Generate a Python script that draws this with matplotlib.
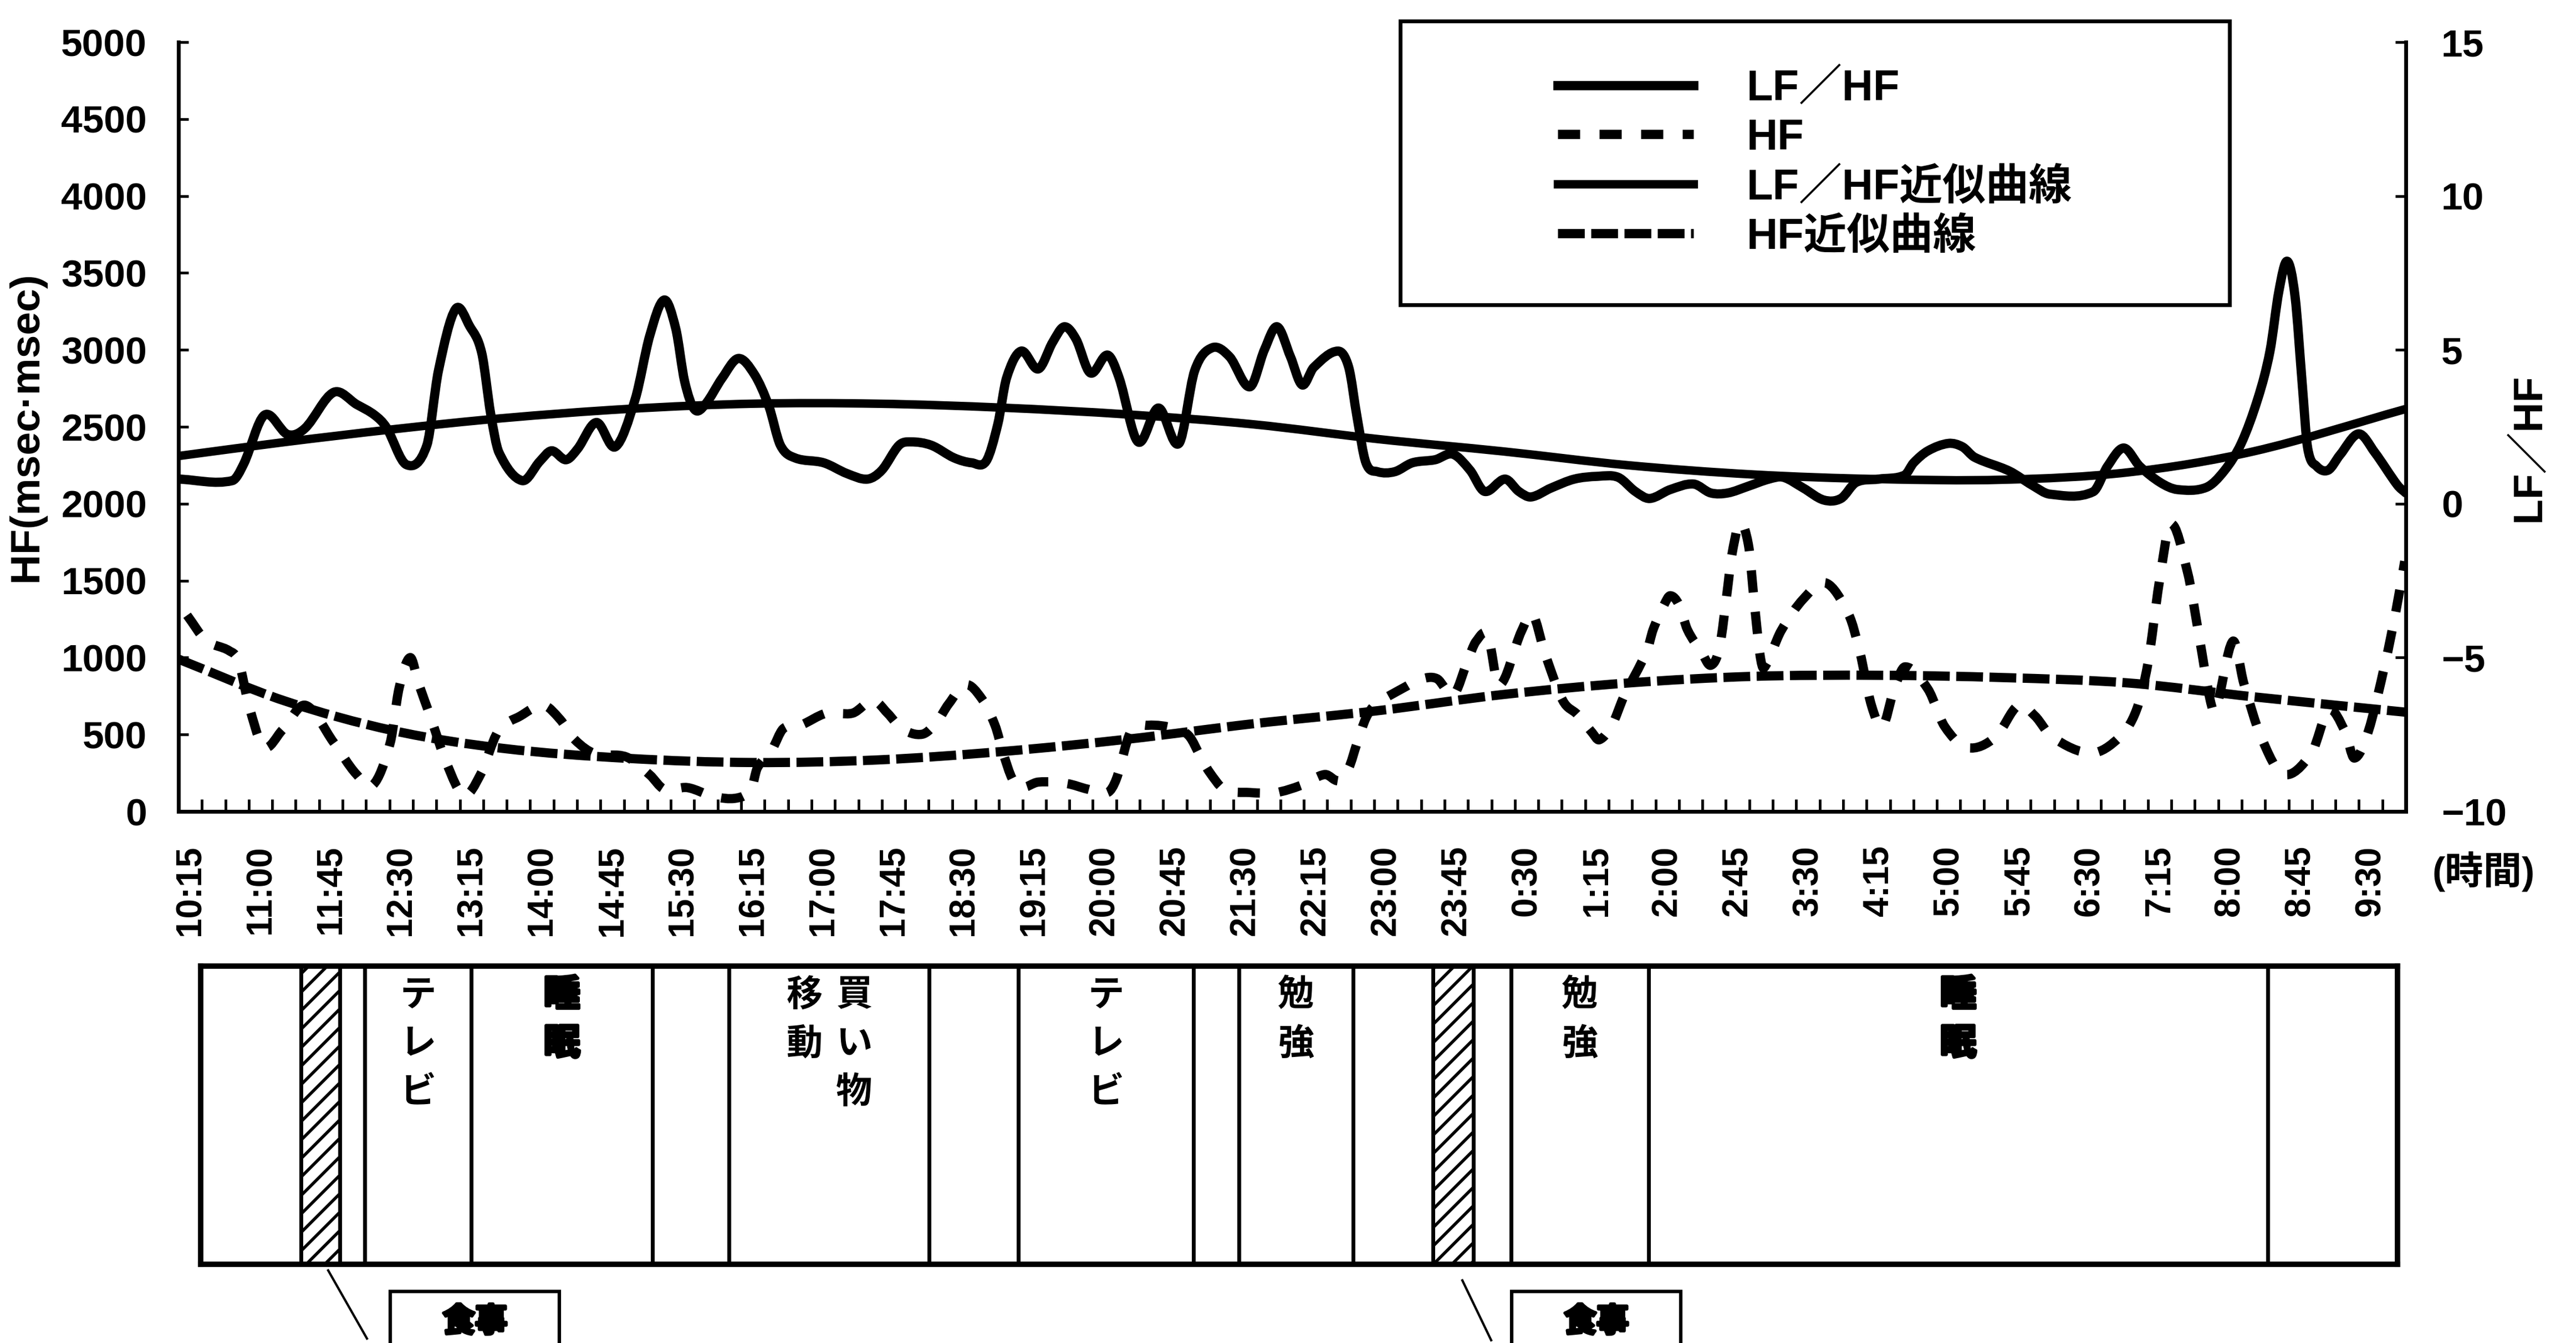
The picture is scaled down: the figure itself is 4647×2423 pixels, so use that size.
import numpy as np
import matplotlib
matplotlib.use("Agg")
import matplotlib.pyplot as plt
import matplotlib.patheffects as pe
from matplotlib.path import Path
from matplotlib.patches import PathPatch, Rectangle
from matplotlib.lines import Line2D

# ---------------- data (minutes after 10:15) ----------------
time_labels = ['10:15', '11:00', '11:45', '12:30', '13:15', '14:00', '14:45', '15:30',
               '16:15', '17:00', '17:45', '18:30', '19:15', '20:00', '20:45', '21:30',
               '22:15', '23:00', '23:45', '0:30', '1:15', '2:00', '2:45', '3:30',
               '4:15', '5:00', '5:45', '6:30', '7:15', '8:00', '8:45', '9:30']

lfhf_times = [-7.5, 26.9, 34.3, 47.5, 62.4, 73.4, 91.8, 106.7, 118.0, 125.5,
              138.3, 151.4, 158.8, 169.8, 179.0, 186.5, 192.2, 197.5, 212.4, 223.7,
              231.2, 240.4, 247.8, 259.9, 272.0, 284.7, 294.0, 303.2, 310.6, 316.3,
              322.7, 329.4, 340.4, 350.7, 361.0, 370.2, 377.6, 386.9, 405.3, 420.2,
              433.3, 442.5, 453.5, 461.0, 474.1, 488.7, 500.0, 509.2, 516.7, 522.3,
              531.6, 542.6, 551.8, 559.2, 566.7, 575.9, 586.9, 594.3, 606.4, 619.5,
              632.6, 642.6, 653.9, 664.9, 678.0, 687.3, 695.4, 703.9, 711.4, 718.8,
              734.4, 741.2, 746.5, 752.2, 759.6, 770.6, 781.9, 796.5, 807.8, 818.8,
              828.1, 841.2, 850.0, 857.8, 870.6, 885.5, 900.4, 913.5, 924.5, 933.7,
              946.9, 961.8, 972.8, 983.7, 996.9, 1010.0, 1019.2, 1032.0, 1045.1, 1056.1,
              1065.7, 1080.2, 1096.9, 1102.6, 1111.8, 1124.9, 1133.8, 1141.6, 1163.9, 1178.5,
              1189.8, 1217.5, 1226.7, 1237.0, 1247.2, 1260.4, 1271.4, 1289.8, 1301.2, 1312.2,
              1323.1, 1330.6, 1336.3, 1341.6, 1346.6, 1351.2, 1354.7, 1360.4, 1367.8, 1375.3,
              1387.3, 1397.6, 1412.2, 1417.5]
lfhf_values = [0.80, 0.75, 1.3, 2.88, 2.25, 2.45, 3.62, 3.22, 2.88, 2.48,
               1.27, 1.90, 4.32, 6.33, 5.75, 4.90, 2.93, 1.67, 0.75, 1.38,
               1.72, 1.43, 1.78, 2.64, 1.85, 3.40, 5.46, 6.62, 5.70, 3.98,
               3.06, 3.22, 4.09, 4.72, 4.20, 3.17, 1.90, 1.49, 1.33, 0.98,
               0.80, 1.09, 1.90, 2.01, 1.90, 1.49, 1.33, 1.38, 2.59, 4.09,
               4.96, 4.38, 5.25, 5.75, 5.35, 4.25, 4.83, 4.09, 2.01, 3.11,
               1.96, 4.32, 5.07, 4.78, 3.80, 5.01, 5.75, 4.78, 3.86, 4.43,
               4.96, 4.43, 2.82, 1.33, 1.04, 1.04, 1.33, 1.43, 1.61, 1.09,
               0.40, 0.80, 0.40, 0.22, 0.51, 0.80, 0.89, 0.86, 0.40, 0.17,
               0.46, 0.64, 0.35, 0.35, 0.57, 0.80, 0.86, 0.51, 0.12, 0.17,
               0.69, 0.80, 0.93, 1.33, 1.72, 1.96, 1.85, 1.51, 1.06, 0.60,
               0.31, 0.39, 1.22, 1.81, 1.22, 0.69, 0.46, 0.53, 1.06, 1.96,
               3.46, 4.96, 6.91, 7.88, 6.75, 3.91, 1.81, 1.22, 1.09, 1.58,
               2.27, 1.67, 0.60, 0.35]

hf_times = [-2, 10, 25, 31, 37.5, 47, 59, 73.7, 91.8, 106.3,
            117, 128, 133.6, 140.7, 146.1, 153.5, 164.1, 175.1, 185.8, 196.8,
            211.3, 225.9, 236.5, 246.1, 258.8, 279.1, 294, 303.2, 318.1, 334.7,
            349.6, 358.9, 362.8, 372, 379.4, 390.4, 407.1, 423.8, 436.9, 446.1,
            455.3, 468.4, 477.7, 485.1, 496.1, 506.4, 514.9, 520.2, 525.9, 531.6,
            542.6, 561, 574.1, 586.9, 592.6, 601.8, 612.8, 629.8, 639, 646.5,
            651.8, 661.4, 678, 694.7, 710.7, 725.9, 734.8, 741.2, 746.5, 752.2,
            757.8, 778, 787.3, 797.6, 808.2, 817.1, 822.7, 830.2, 837.3, 851.8,
            858.9, 866.4, 878.1, 887.6, 896.9, 901.5, 909.6, 917.1, 932, 935.9,
            943, 946.9, 952.5, 957.9, 967.1, 972.8, 978.4, 983.7, 985.9, 991.2,
            996.9, 1000.8, 1004.3, 1006.8, 1017.8, 1032.3, 1046.5, 1061.1, 1068.2, 1075.6,
            1082.7, 1090.1, 1097.2, 1111.8, 1122.4, 1137, 1155, 1169.6, 1180.2, 1191.2,
            1216.4, 1234.5, 1245.1, 1252.6, 1259.7, 1267.1, 1277.8, 1285.2, 1292.3, 1295.8,
            1306.8, 1313.9, 1324.9, 1339.1, 1357.2, 1368.2, 1378.8, 1384.5, 1393.4, 1404.4,
            1411.4, 1416.8]
hf_values = [1275, 1113, 1044, 975, 690, 420, 530, 690, 448, 242,
             173, 448, 800, 1000, 831, 621, 311, 105, 242, 517,
             621, 690, 600, 466, 376, 354, 238, 145, 155, 98,
             87, 145, 282, 397, 538, 560, 639, 639, 722, 639,
             538, 502, 582, 697, 824, 733, 560, 376, 213, 155,
             191, 181, 145, 123, 213, 520, 560, 540, 491, 354,
             260, 145, 123, 123, 170, 240, 200, 282, 444, 607,
             690, 813, 860, 863, 759, 975, 1106, 1142, 820, 1174,
             1279, 1037, 722, 629, 513, 466, 560, 744, 1044, 1181,
             1344, 1402, 1344, 1181, 1033, 950, 1066, 1460, 1644, 1871,
             1734, 1344, 1019, 932, 1174, 1384, 1485, 1279, 1037, 690,
             553, 795, 940, 795, 553, 415, 484, 690, 621, 484,
             380, 484, 658, 968, 1485, 1868, 1557, 1142, 726, 658,
             1106, 831, 484, 242, 380, 658, 517, 347, 517, 968,
             1315, 1626]

trend_times = [-7.5, 60, 130, 200, 280, 360, 440, 520, 600, 680,
               760, 840, 920, 1000, 1080, 1160, 1240, 1320, 1417.5]
lfhf_trend_values = [1.55, 2.0, 2.42, 2.78, 3.08, 3.25, 3.25, 3.12, 2.90, 2.58,
                     2.10, 1.70, 1.25, 0.95, 0.80, 0.78, 1.02, 1.70, 3.08]
hf_trend_values = [990, 720, 525, 410, 345, 318, 335, 390, 470, 570,
                   655, 760, 835, 878, 885, 870, 835, 745, 645]

# activity schedule (segment boundaries, minutes after 10:15)
act_bounds = [7, 71, 96, 112, 180, 296, 345, 473, 530, 642, 671, 744, 795, 821, 845, 933, 1329, 1412]
act_names = ['', '食事', '', 'テレビ', '睡眠', '', '買い物 移動', '', 'テレビ', '', '勉強',
             '', '食事', '', '勉強', '睡眠', '']

legend_labels = ['LF／HF', 'HF', 'LF／HF近似曲線', 'HF近似曲線']

# ---------------- style ----------------
plt.rcParams['font.family'] = ['Liberation Sans', 'Noto Sans CJK JP']
plt.rcParams['font.weight'] = 'bold'
plt.rcParams['axes.labelweight'] = 'bold'
plt.rcParams['hatch.linewidth'] = 4
plt.rcParams['axes.unicode_minus'] = True

W, H = 4647, 2423
fig = plt.figure(figsize=(W / 100, H / 100), dpi=100)


def fx(px):
    return px / W


def fy(py):
    return 1 - py / H


def smooth_path(t, v):
    t = np.asarray(t, float)
    v = np.asarray(v, float)
    n = len(t)
    m = np.empty(n)
    m[1:-1] = (v[2:] - v[:-2]) / (t[2:] - t[:-2])
    m[0] = (v[1] - v[0]) / (t[1] - t[0])
    m[-1] = (v[-1] - v[-2]) / (t[-1] - t[-2])
    verts = [(t[0], v[0])]
    codes = [Path.MOVETO]
    for i in range(n - 1):
        dt = t[i + 1] - t[i]
        verts += [(t[i] + dt / 3, v[i] + m[i] * dt / 3),
                  (t[i + 1] - dt / 3, v[i + 1] - m[i + 1] * dt / 3),
                  (t[i + 1], v[i + 1])]
        codes += [Path.CURVE4] * 3
    return Path(verts, codes)


ax = fig.add_axes([fx(322), fy(1464), fx(4340) - fx(322), fy(76) - fy(1464)])
ax2 = ax.twinx()

LW = 12
HF_DASH = (0, (2.4, 2.1))
HFT_DASH = (0, (2.9, 0.7))

ax.add_patch(PathPatch(smooth_path(hf_times, hf_values), fill=False, lw=LW,
                       ls=HF_DASH, edgecolor='k', capstyle='butt', joinstyle='round'))
ax.add_patch(PathPatch(smooth_path(trend_times, hf_trend_values), fill=False, lw=LW,
                       ls=HFT_DASH, edgecolor='k', capstyle='butt', joinstyle='round'))
ax2.add_patch(PathPatch(smooth_path(lfhf_times, lfhf_values), fill=False, lw=LW,
                        edgecolor='k', capstyle='round', joinstyle='round'))
ax2.add_patch(PathPatch(smooth_path(trend_times, lfhf_trend_values), fill=False, lw=LW - 1,
                        edgecolor='k', capstyle='round', joinstyle='round'))

ax.set_xlim(-7.5, 1417.5)
ax.set_ylim(0, 5000)
ax2.set_ylim(-10, 15)

for a in (ax, ax2):
    a.spines['top'].set_visible(False)
    for s in a.spines.values():
        s.set_linewidth(5)
ax.spines['right'].set_visible(False)
ax2.spines['left'].set_visible(False)
ax2.spines['bottom'].set_visible(False)

ax.set_yticks(np.arange(0, 5001, 500))
ax.tick_params(axis='y', direction='in', length=13, width=3.5, labelsize=50, pad=41)
ax2.set_yticks(np.arange(-10, 16, 5))
ax2.tick_params(axis='y', direction='in', length=14, width=3.5, labelsize=50, pad=46)

ax.set_xticks(np.arange(len(time_labels)) * 45, labels=time_labels, rotation=90)
ax.tick_params(axis='x', which='major', length=0, labelsize=46, pad=44)
ax.set_xticks(np.arange(7.5, 1410, 15), minor=True)
ax.tick_params(axis='x', which='minor', direction='in', length=16, width=3.5)

ax.set_ylabel('HF(msec·msec)', fontsize=54, fontweight='bold', va='center')
ax.yaxis.set_label_coords((48 - 322) / 4018, 0.5)
ax2.set_ylabel('LF／HF', fontsize=54, fontweight='bold', va='center')
ax2.yaxis.set_label_coords((4562 - 322) / 4018, 0.473)

fig.text(fx(4480), fy(1572), '(時間)', ha='center', va='center', fontsize=50,
         fontweight='bold')

# legend
handles = [Line2D([], [], color='k', lw=LW),
           Line2D([], [], color='k', lw=LW, ls=HF_DASH, dash_capstyle='butt'),
           Line2D([], [], color='k', lw=LW - 1),
           Line2D([], [], color='k', lw=LW, ls=HFT_DASH, dash_capstyle='butt')]
fig.add_artist(Rectangle((fx(2526), fy(550)), fx(4022) - fx(2526), fy(38) - fy(550),
                         transform=fig.transFigure, fill=False, lw=5, edgecolor='k'))
fig.legend(handles, legend_labels, loc='center', bbox_to_anchor=(fx(3274), fy(294)),
           frameon=False, fontsize=56, handlelength=3.15, handletextpad=1.23,
           labelspacing=0.2, borderpad=0)

# ---------------- activity strip ----------------
act = fig.add_axes([fx(362), fy(2281), fx(4325) - fx(362), fy(1743) - fy(2281)])
act.set_xlim(act_bounds[0], act_bounds[-1])
act.set_ylim(0, 1)
act.set_xticks([])
act.set_yticks([])
for s in act.spines.values():
    s.set_linewidth(7)

heavy = [pe.withStroke(linewidth=4, foreground='k')]
box_h_px = 2281 - 1743
min_per_px = (act_bounds[-1] - act_bounds[0]) / (4325 - 362)
col_off = 90 * min_per_px
callout_left_px = [704, 2727]
leaders = [((592, 2292), (662, 2415)), ((2638, 2310), (2690, 2418))]
meal_i = 0
for i, name in enumerate(act_names):
    b0, b1 = act_bounds[i], act_bounds[i + 1]
    if name == '食事':
        act.axvspan(b0, b1, facecolor='white', edgecolor='k', hatch='/', lw=0)
        lx = callout_left_px[meal_i]
        fig.add_artist(Rectangle((fx(lx), fy(2460)), fx(305), fy(2330) - fy(2460),
                                 transform=fig.transFigure, fill=False, lw=4.5, edgecolor='k'))
        fig.text(fx(lx + 153), fy(2385), name, ha='center', va='center', fontsize=42,
                 fontweight='bold', family=['Noto Sans CJK JP'], path_effects=heavy)
        (x0, y0), (x1, y1) = leaders[meal_i]
        fig.add_artist(Line2D([fx(x0), fx(x1)], [fy(y0), fy(y1)], transform=fig.transFigure,
                              lw=3, color='k'))
        meal_i += 1
        continue
    if not name:
        continue
    cols = name.split(' ')
    c = (b0 + b1) / 2
    for j, col in enumerate(cols):
        x = c + (len(cols) - 1) / 2 * col_off - j * col_off
        for k, ch in enumerate(col):
            y = 1 - (52 + 88 * k) / box_h_px
            act.text(x, y, ch, ha='center', va='center', fontsize=47,
                     fontweight='bold', family=['Noto Sans CJK JP'],
                     path_effects=heavy if name == '睡眠' else None)
act.vlines(act_bounds[1:-1], 0, 1, colors='k', lw=5)

fig.savefig('out.png', dpi=100, facecolor='white')
